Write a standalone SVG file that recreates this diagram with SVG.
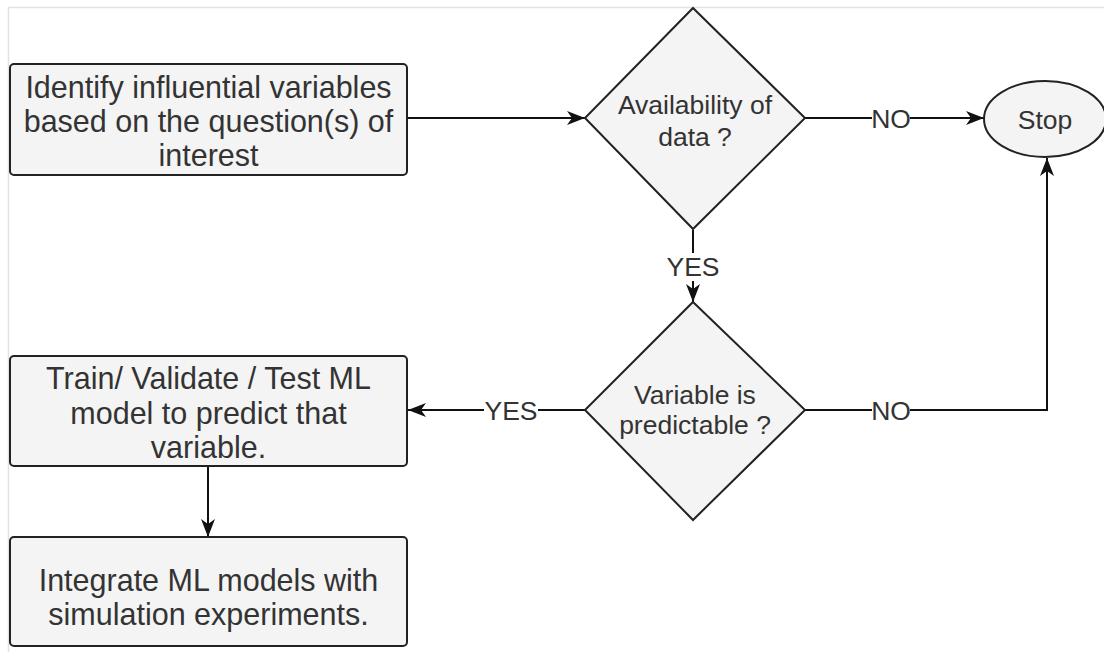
<svg xmlns="http://www.w3.org/2000/svg" width="1104" height="652" viewBox="0 0 1104 652">
<defs>
<marker id="arr" markerUnits="userSpaceOnUse" markerWidth="19" markerHeight="16" refX="18" refY="8" orient="auto">
<path d="M0,1 L18,8 L0,15 L5,8 Z" fill="#111"/>
</marker>
<style>
.node{fill:#f4f4f4;stroke:#222;stroke-width:2}
.t{font-family:"Liberation Sans",Arial,sans-serif;fill:#333;text-anchor:middle}
.big{font-size:30.5px}
.mid{font-size:26.5px}
.edge{fill:none;stroke:#111;stroke-width:2}
.lbl{fill:#fff}
</style>
</defs>
<rect width="1104" height="652" fill="#fff"/>
<g id="frame">
<line x1="8" y1="7.5" x2="1104" y2="7.5" stroke="#e2e2e2" stroke-width="1.5"/>
<line x1="8.5" y1="7" x2="8.5" y2="652" stroke="#e2e2e2" stroke-width="1.5"/>
</g>
<g id="connectors">
<path class="edge" d="M407,118 H585" marker-end="url(#arr)"/>
<path class="edge" d="M805,118 H984" marker-end="url(#arr)"/>
<path class="edge" d="M693,230 V302" marker-end="url(#arr)"/>
<path class="edge" d="M805,410 H1047 V158" marker-end="url(#arr)"/>
<path class="edge" d="M585,410 H408" marker-end="url(#arr)"/>
<path class="edge" d="M208,467 V537" marker-end="url(#arr)"/>
<rect class="lbl" x="872" y="104" width="38" height="28"/>
<text class="t mid" x="891" y="128">NO</text>
<rect class="lbl" x="666" y="253" width="54" height="28"/>
<text class="t mid" x="693" y="276">YES</text>
<rect class="lbl" x="872" y="396" width="38" height="28"/>
<text class="t mid" x="891" y="420">NO</text>
<rect class="lbl" x="484" y="396" width="54" height="28"/>
<text class="t mid" x="511" y="420">YES</text>
</g>
<g id="identify">
<rect class="node" x="10" y="64" width="397" height="111" rx="4"/>
<text class="t big" x="208.5" y="98">Identify influential variables</text>
<text class="t big" x="208.5" y="132">based on the question(s) of</text>
<text class="t big" x="208.5" y="166">interest</text>
</g>
<g id="availability">
<polygon class="node" points="693,8 805,118 693,229 585,118"/>
<text class="t mid" x="695" y="114">Availability of</text>
<text class="t mid" x="695" y="146">data ?</text>
</g>
<g id="stop">
<ellipse class="node" cx="1045" cy="119" rx="61" ry="38"/>
<text class="t mid" x="1045" y="129">Stop</text>
</g>
<g id="predictable">
<polygon class="node" points="693,302 805,410 693,520 585,410"/>
<text class="t mid" x="695" y="404">Variable is</text>
<text class="t mid" x="695" y="434">predictable ?</text>
</g>
<g id="train">
<rect class="node" x="10" y="356" width="397" height="110" rx="4"/>
<text class="t big" x="208.5" y="389">Train/ Validate / Test ML</text>
<text class="t big" x="208.5" y="424">model to predict that</text>
<text class="t big" x="208.5" y="458">variable.</text>
</g>
<g id="integrate">
<rect class="node" x="10" y="537" width="397" height="109" rx="4"/>
<text class="t big" x="208.5" y="591">Integrate ML models with</text>
<text class="t big" x="208.5" y="625">simulation experiments.</text>
</g>
</svg>
